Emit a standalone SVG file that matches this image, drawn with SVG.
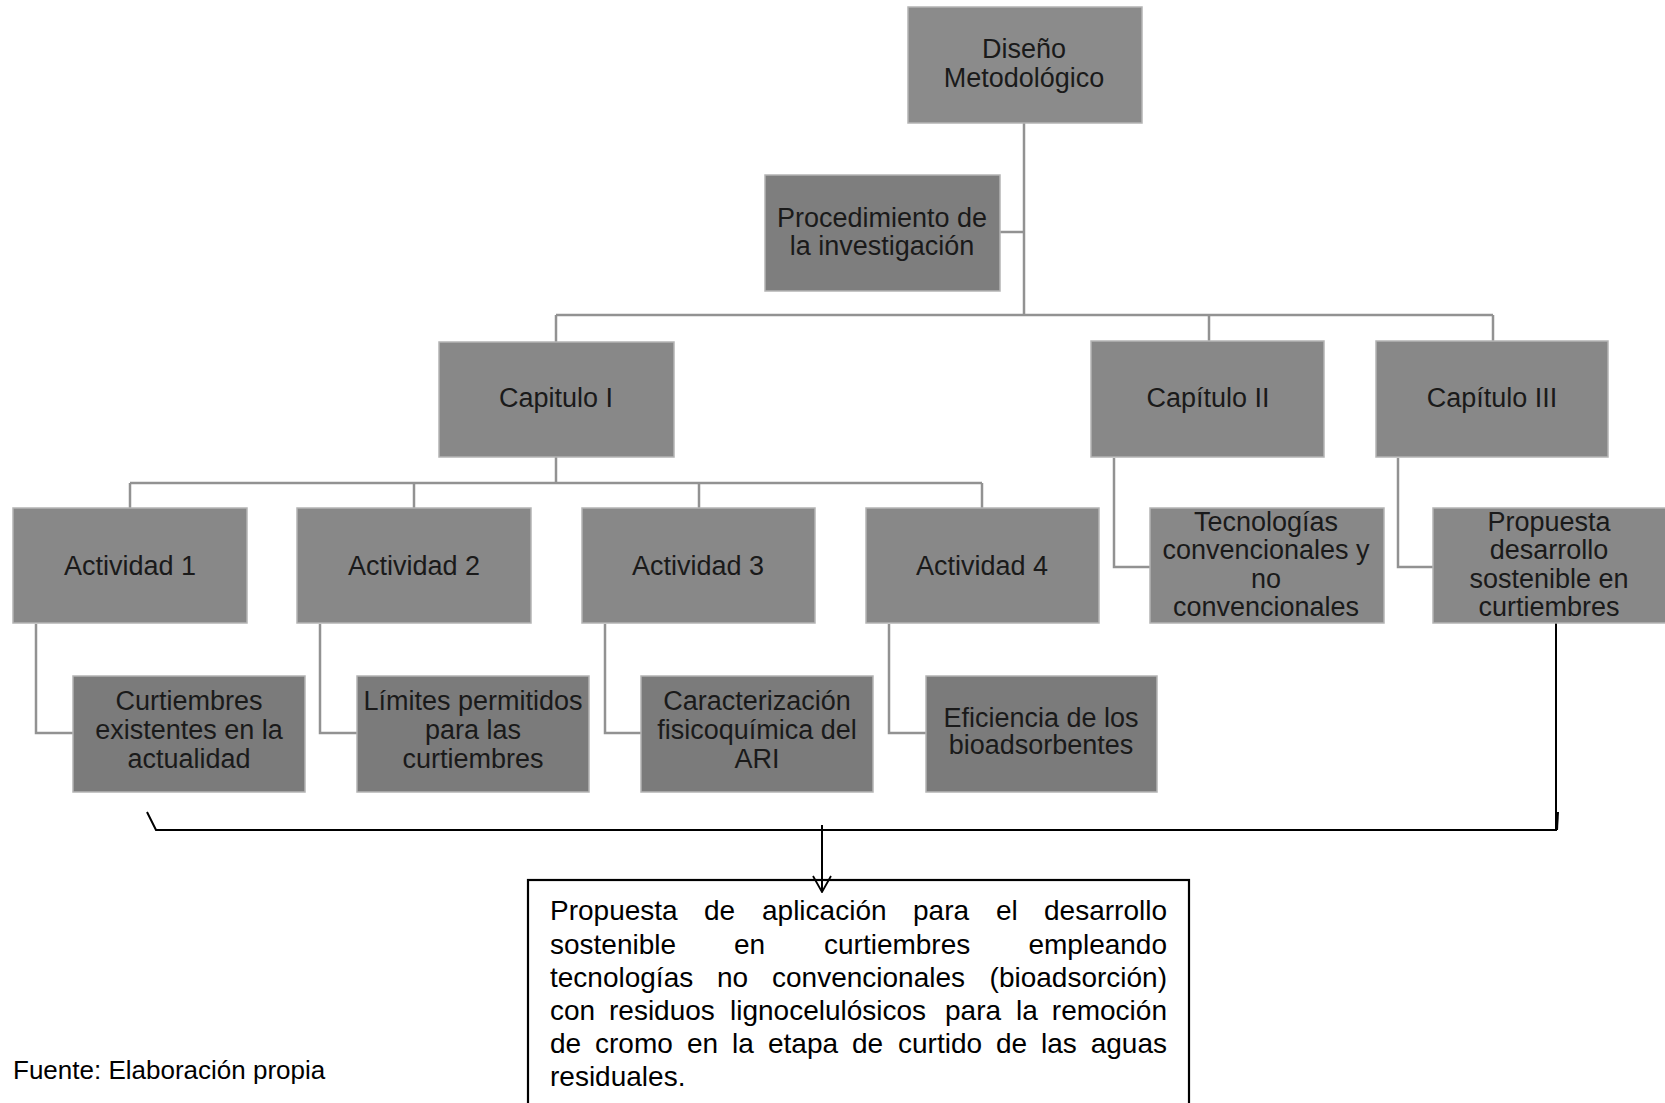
<svg xmlns="http://www.w3.org/2000/svg" width="1665" height="1103" viewBox="0 0 1665 1103">
<defs>
<style>
.box{stroke:#b4b4b4;stroke-width:1.5}
.l1{fill:#8b8b8b}
.l2{fill:#7e7e7e}
.l3{fill:#888888}
.l4{fill:#7b7b7b}
.nt{font-family:"Liberation Sans",Arial,sans-serif;font-size:27px;fill:#1a1a1a;text-anchor:middle}
.con{fill:none;stroke:#929292;stroke-width:2.5}
.blk{fill:none;stroke:#000;stroke-width:2}
.bt{font-family:"Liberation Sans",Arial,sans-serif;font-size:28px;fill:#000}
</style>
<marker id="vhead" viewBox="0 0 18 20" refX="17" refY="10" markerWidth="18" markerHeight="20" markerUnits="userSpaceOnUse" orient="auto">
<path d="M1,1 L17,10 L1,19" fill="none" stroke="#000" stroke-width="1.8"/>
</marker>
</defs>
<rect width="1665" height="1103" fill="#fff"/>

<g id="connectors">
<path class="con" d="M1024,123 V315 M1000,232 H1024"/>
<path class="con" d="M556,315 H1493 M556,315 V342 M1209,315 V341 M1493,315 V341"/>
<path class="con" d="M556,457 V483 M130,483 H982 M130,483 V508 M414,483 V508 M699,483 V508 M982,483 V508"/>
<path class="con" d="M36,624 V733 H73 M320,624 V733 H357 M605,624 V733 H641 M889,624 V733 H926"/>
<path class="con" d="M1114,458 V567 H1150 M1398,458 V567 H1433"/>
<path class="blk" d="M1556,615 V830 H156 L147,812"/>
<path class="blk" d="M1558,812 L1557,830" stroke-width="1.5"/>
<line class="blk" x1="822" y1="825" x2="822" y2="892" stroke-width="1.6" marker-end="url(#vhead)"/>
</g>

<g id="n-diseno">
<rect class="box l1" x="908" y="7" width="234" height="116"/>
<text class="nt" x="1024" y="58">Diseño</text>
<text class="nt" x="1024" y="87">Metodológico</text>
</g>
<g id="n-procedimiento">
<rect class="box l2" x="765" y="175" width="235" height="116"/>
<text class="nt" x="882" y="227">Procedimiento de</text>
<text class="nt" x="882" y="255">la investigación</text>
</g>
<g id="n-cap1">
<rect class="box l3" x="439" y="342" width="235" height="115"/>
<text class="nt" x="556" y="407">Capitulo I</text>
</g>
<g id="n-cap2">
<rect class="box l3" x="1091" y="341" width="233" height="116"/>
<text class="nt" x="1208" y="407">Capítulo II</text>
</g>
<g id="n-cap3">
<rect class="box l3" x="1376" y="341" width="232" height="116"/>
<text class="nt" x="1492" y="407">Capítulo III</text>
</g>
<g id="n-act1">
<rect class="box l3" x="13" y="508" width="234" height="115"/>
<text class="nt" x="130" y="575">Actividad 1</text>
</g>
<g id="n-act2">
<rect class="box l3" x="297" y="508" width="234" height="115"/>
<text class="nt" x="414" y="575">Actividad 2</text>
</g>
<g id="n-act3">
<rect class="box l3" x="582" y="508" width="233" height="115"/>
<text class="nt" x="698" y="575">Actividad 3</text>
</g>
<g id="n-act4">
<rect class="box l3" x="866" y="508" width="233" height="115"/>
<text class="nt" x="982" y="575">Actividad 4</text>
</g>
<g id="n-curtiembres">
<rect class="box l4" x="73" y="676" width="232" height="116"/>
<text class="nt" x="189" y="710">Curtiembres</text>
<text class="nt" x="189" y="739">existentes en la</text>
<text class="nt" x="189" y="768">actualidad</text>
</g>
<g id="n-limites">
<rect class="box l4" x="357" y="676" width="232" height="116"/>
<text class="nt" x="473" y="710">Límites permitidos</text>
<text class="nt" x="473" y="739">para las</text>
<text class="nt" x="473" y="768">curtiembres</text>
</g>
<g id="n-caracterizacion">
<rect class="box l4" x="641" y="676" width="232" height="116"/>
<text class="nt" x="757" y="710">Caracterización</text>
<text class="nt" x="757" y="739">fisicoquímica del</text>
<text class="nt" x="757" y="768">ARI</text>
</g>
<g id="n-eficiencia">
<rect class="box l4" x="926" y="676" width="231" height="116"/>
<text class="nt" x="1041" y="727">Eficiencia de los</text>
<text class="nt" x="1041" y="754">bioadsorbentes</text>
</g>
<g id="n-tecnologias">
<rect class="box l3" x="1150" y="508" width="234" height="115"/>
<text class="nt" x="1266" y="531">Tecnologías</text>
<text class="nt" x="1266" y="559">convencionales y</text>
<text class="nt" x="1266" y="588">no</text>
<text class="nt" x="1266" y="616">convencionales</text>
</g>
<g id="n-propuesta">
<rect class="box l3" x="1433" y="508" width="234" height="115"/>
<text class="nt" x="1549" y="531">Propuesta</text>
<text class="nt" x="1549" y="559">desarrollo</text>
<text class="nt" x="1549" y="588">sostenible en</text>
<text class="nt" x="1549" y="616">curtiembres</text>
</g>

<g id="n-resultado">
<rect x="528" y="880" width="661" height="240" fill="none" stroke="#000" stroke-width="2.2"/>
<text class="bt" y="920"><tspan x="550">Propuesta</tspan><tspan x="704">de</tspan><tspan x="762">aplicación</tspan><tspan x="913">para</tspan><tspan x="996">el</tspan><tspan x="1167" text-anchor="end">desarrollo</tspan></text>
<text class="bt" y="954"><tspan x="550">sostenible</tspan><tspan x="734">en</tspan><tspan x="824">curtiembres</tspan><tspan x="1167" text-anchor="end">empleando</tspan></text>
<text class="bt" y="987"><tspan x="550">tecnologías</tspan><tspan x="717">no</tspan><tspan x="772">convencionales</tspan><tspan x="1167" text-anchor="end">(bioadsorción)</tspan></text>
<text class="bt" y="1020"><tspan x="550">con</tspan><tspan x="609">residuos</tspan><tspan x="730">lignocelulósicos</tspan><tspan x="945">para</tspan><tspan x="1016">la</tspan><tspan x="1167" text-anchor="end">remoción</tspan></text>
<text class="bt" y="1053"><tspan x="550">de</tspan><tspan x="595">cromo</tspan><tspan x="687">en</tspan><tspan x="732">la</tspan><tspan x="768">etapa</tspan><tspan x="852">de</tspan><tspan x="898">curtido</tspan><tspan x="996">de</tspan><tspan x="1041">las</tspan><tspan x="1167" text-anchor="end">aguas</tspan></text>
<text class="bt" y="1086"><tspan x="550">residuales.</tspan></text>
</g>

<text id="fuente" x="13" y="1079" font-family="'Liberation Sans',Arial,sans-serif" font-size="26" fill="#000">Fuente: Elaboración propia</text>
</svg>
